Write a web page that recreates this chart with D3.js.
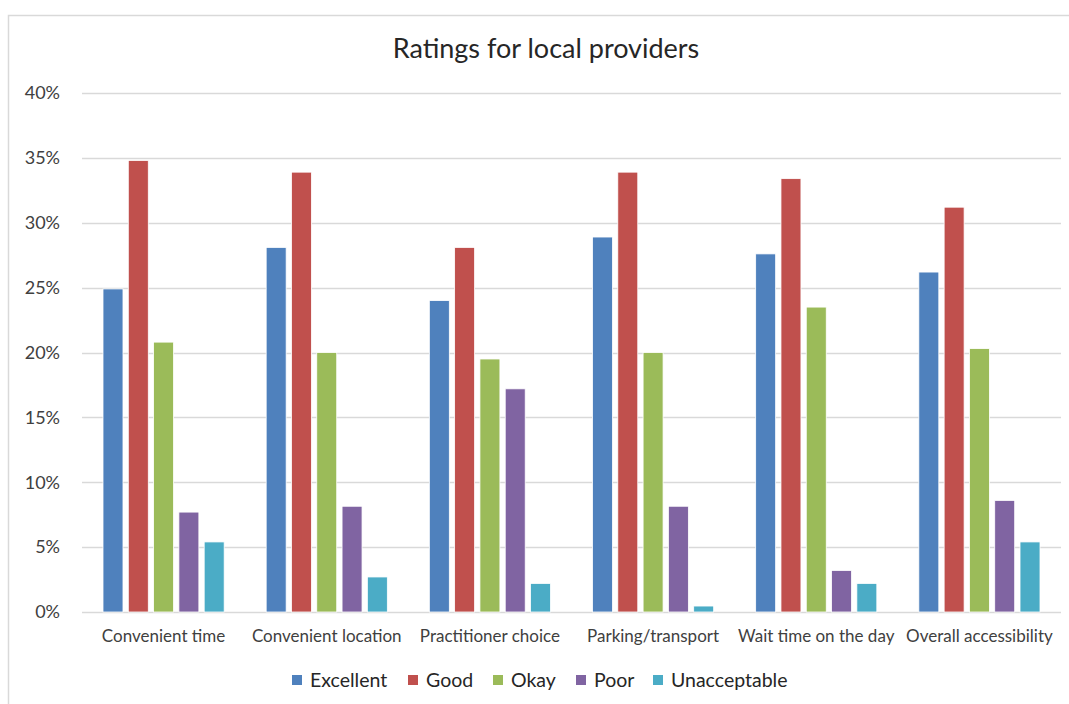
<!DOCTYPE html>
<html><head><meta charset="utf-8">
<script src="https://cdn.jsdelivr.net/npm/d3@7"></script>
<style>
body{margin:0;background:#fff;}
svg text{font-family:"Lato","Open Sans",sans-serif;}
</style></head>
<body><svg id="chart" width="1069" height="704"></svg>
<script>
const categories = ["Convenient time","Convenient location","Practitioner choice","Parking/transport","Wait time on the day","Overall accessibility"];
const seriesNames = ["Excellent","Good","Okay","Poor","Unacceptable"];
const colors = ["#4f81bd","#c0504d","#9bbb59","#8064a2","#4bacc6"];
const excellent = [24.9, 28.1, 24.0, 28.9, 27.6, 26.2];
const good = [34.8, 33.9, 28.1, 33.9, 33.4, 31.2];
const okay = [20.8, 20.0, 19.5, 20.0, 23.5, 20.3];
const poor = [7.7, 8.15, 17.2, 8.15, 3.2, 8.6];
const unacceptable = [5.4, 2.7, 2.2, 0.46, 2.2, 5.4];
const yTicks = [0,5,10,15,20,25,30,35,40];
const title = "Ratings for local providers";

const seriesValues = [excellent, good, okay, poor, unacceptable];
const svg = d3.select("#chart");

// outer border
svg.append("path").attr("d","M8.5,704 L8.5,15.5 L1069,15.5").attr("fill","none").attr("stroke","#d9d9d9").attr("stroke-width",1.5);

const plotL = 82, plotR = 1061, plotT = 93, plotB = 612;
const x0 = d3.scaleBand().domain(categories).range([plotL,plotR]).padding(0);
const x1 = d3.scaleBand().domain(seriesNames).range([21, x0.bandwidth()-21]).paddingInner(0.21);
const y = d3.scaleLinear().domain([0,40]).range([plotB, plotT]);

// gridlines
svg.append("g").selectAll("line").data(yTicks).join("line")
  .attr("x1",plotL).attr("x2",plotR)
  .attr("y1",d=>Math.round(y(d))+0.5).attr("y2",d=>Math.round(y(d))+0.5)
  .attr("stroke","#d9d9d9").attr("stroke-width",1.5);

// y tick labels
svg.append("g").selectAll("text").data(yTicks).join("text")
  .attr("x",60).attr("y",d=>y(d)).attr("dy","0.35em")
  .attr("text-anchor","end").attr("font-size",18).attr("fill","#404040")
  .text(d=>d+"%");

// bars
const groups = svg.append("g").selectAll("g").data(categories).join("g")
  .attr("transform",d=>`translate(${x0(d)},0)`);
groups.selectAll("rect").data((c,i)=>seriesNames.map((s,j)=>({s, v: seriesValues[j][i], j})))
  .join("rect")
  .attr("x",d=>x1(d.s)).attr("width",x1.bandwidth())
  .attr("y",d=>y(d.v)).attr("height",d=>y(0)-y(d.v))
  .attr("fill",d=>colors[d.j]).attr("stroke","#ffffff").attr("stroke-width",0.8);

// x labels
svg.append("g").selectAll("text").data(categories).join("text")
  .attr("x",d=>x0(d)+x0.bandwidth()/2).attr("y",642)
  .attr("text-anchor","middle").attr("font-size",17).attr("fill","#404040")
  .text(d=>d);

// title
svg.append("text").attr("x",546).attr("y",58).attr("text-anchor","middle")
  .attr("font-size",27).attr("fill","#262626").text(title);

// legend
const legendX = [292, 408, 493, 576, 653];
const lg = svg.append("g").selectAll("g").data(seriesNames).join("g")
  .attr("transform",(d,i)=>`translate(${legendX[i]},680)`);
lg.append("rect").attr("x",0).attr("y",-5).attr("width",10).attr("height",10).attr("fill",(d,i)=>colors[i]);
lg.append("text").attr("x",18).attr("y",0).attr("dy","0.35em").attr("font-size",19.5).attr("fill","#262626").text(d=>d);
</script></body></html>
